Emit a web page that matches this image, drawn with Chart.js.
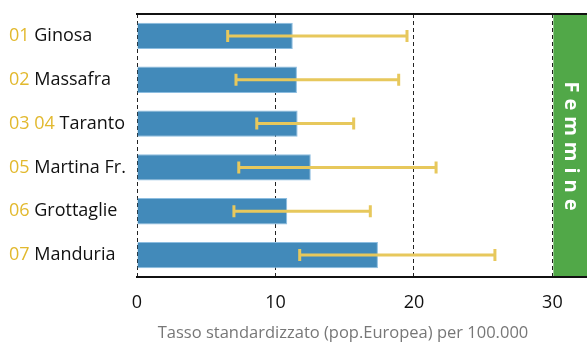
<!DOCTYPE html>
<html><head><meta charset="utf-8">
<script src="https://cdn.jsdelivr.net/npm/chart.js@4/dist/chart.umd.min.js"></script>
<style>html,body{margin:0;padding:0;background:#fff}#wrap{width:587px;height:342px}</style>
</head><body><div id="wrap"><canvas id="c"></canvas></div>
<script>
const codes = ["01", "02", "03 04", "05", "06", "07"];
const names = ["Ginosa", "Massafra", "Taranto", "Martina Fr.", "Grottaglie", "Manduria"];
const rates = [11.25, 11.55, 11.6, 12.55, 10.85, 17.4];
const lower = [6.55, 7.15, 8.65, 7.35, 7.0, 11.75];
const upper = [19.5, 18.9, 15.65, 21.6, 16.85, 25.85];
const xTicks = [0, 10, 20, 30];
const panelLabel = "Femmine";
const xTitle = "Tasso standardizzato (pop.Europea) per 100.000";

const FONT = "'Open Sans', 'Noto Sans', sans-serif";

const decor = {
  id: 'decor',
  beforeDatasetsDraw(chart) {
    const {ctx, chartArea: a, scales: {x}} = chart;
    const gx = x.getPixelForValue(30);
    ctx.save();
    ctx.fillStyle = '#51a848';
    ctx.fillRect(gx + 1, a.top, a.right - gx, a.bottom - a.top);
    // vertical text
    ctx.fillStyle = '#ffffff';
    ctx.font = "bold 20px " + FONT;
    ctx.textAlign = 'left';
    ctx.textBaseline = 'middle';
    ctx.letterSpacing = '6px';
    const cx = (gx + a.right) / 2 + 1;
    const w = ctx.measureText(panelLabel).width - 6;
    ctx.translate(cx, 146);
    ctx.rotate(Math.PI / 2);
    ctx.fillText(panelLabel, -w / 2, 0);
    ctx.restore();
  },
  afterDatasetsDraw(chart) {
    const {ctx, chartArea: a, scales: {x, y}} = chart;
    ctx.save();
    // error bars
    ctx.strokeStyle = '#e7c85c';
    ctx.lineWidth = 3;
    lower.forEach((lo, i) => {
      const yy = y.getPixelForValue(i);
      const x1 = x.getPixelForValue(lo), x2 = x.getPixelForValue(upper[i]);
      ctx.beginPath();
      ctx.moveTo(x1, yy); ctx.lineTo(x2, yy);
      ctx.moveTo(x1, yy - 6); ctx.lineTo(x1, yy + 6);
      ctx.moveTo(x2, yy - 6); ctx.lineTo(x2, yy + 6);
      ctx.stroke();
    });
    // top & bottom frame
    ctx.strokeStyle = '#111';
    ctx.lineWidth = 2;
    ctx.beginPath();
    ctx.moveTo(a.left - 1, a.top); ctx.lineTo(a.right, a.top);
    ctx.moveTo(a.left - 1, a.bottom); ctx.lineTo(a.right, a.bottom);
    ctx.stroke();
    // category labels
    ctx.font = "18px " + FONT;
    ctx.textBaseline = 'middle';
    ctx.textAlign = 'left';
    codes.forEach((c, i) => {
      const yy = y.getPixelForValue(i);
      let xx = 9;
      ctx.fillStyle = '#e2b92e';
      ctx.fillText(c, xx, yy);
      xx += ctx.measureText(c + ' ').width;
      ctx.fillStyle = '#111';
      ctx.fillText(names[i], xx, yy);
    });
    // axis title
    ctx.font = "16.5px " + FONT;
    ctx.fillStyle = '#777';
    ctx.textAlign = 'center';
    ctx.fillText(xTitle, 343, 333);
    ctx.restore();
  }
};

new Chart(document.getElementById('c'), {
  type: 'bar',
  data: {
    labels: names,
    datasets: [{
      data: rates,
      backgroundColor: '#428aba',
      borderColor: '#8cbde0',
      borderWidth: 1,
      barPercentage: 0.6,
      categoryPercentage: 1.0
    }]
  },
  options: {
    indexAxis: 'y',
    responsive: true,
    maintainAspectRatio: false,
    animation: false,
    layout: { padding: { left: 137, top: 14, right: 0, bottom: 0 } },
    plugins: { legend: { display: false }, tooltip: { enabled: false } },
    scales: {
      y: { display: false, offset: true },
      x: {
        min: 0, max: 32.5,
        afterBuildTicks: s => { s.ticks = xTicks.map(v => ({ value: v })); },
        afterFit: s => { s.height = 65; },
        grid: { color: '#222', lineWidth: 1, drawTicks: false },
        border: { display: false, dash: [4, 3] },
        ticks: { padding: 15, color: '#111', font: { size: 18, family: FONT }, maxRotation: 0 },
        title: { display: false }
      }
    }
  },
  plugins: [decor]
});
</script>
</body></html>
